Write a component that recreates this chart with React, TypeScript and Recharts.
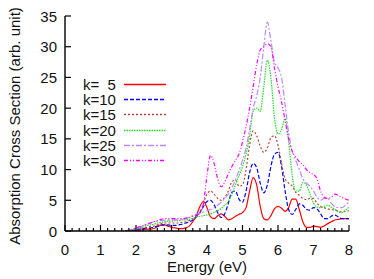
import React from "react";
import { LineChart, Line, XAxis, YAxis, Legend, Label } from "recharts";

const energies = [
  1.7, 1.8, 1.9, 2.0, 2.1, 2.2, 2.3, 2.4, 2.5, 2.6,
  2.7, 2.8, 2.9, 3.0, 3.1, 3.2, 3.3, 3.4, 3.5, 3.6,
  3.7, 3.8, 3.9, 4.0, 4.1, 4.2, 4.3, 4.4, 4.5, 4.6,
  4.7, 4.8, 4.9, 5.0, 5.1, 5.2, 5.3, 5.4, 5.5, 5.6,
  5.7, 5.8, 5.9, 6.0, 6.1, 6.2, 6.3, 6.4, 6.5, 6.6,
  6.7, 6.8, 6.9, 7.0, 7.1, 7.2, 7.3, 7.4, 7.5, 7.6,
  7.7, 7.8, 7.9, 8.0,
];

const k5 = [
  0, 0, 0, 0.05, 0.1, 0.2, 0.3, 0.3, 0.4, 0.7,
  0.95, 1.0, 0.8, 0.6, 0.5, 0.4, 0.4, 0.5, 0.8, 1.5,
  2.5, 4.0, 4.8, 3.8, 2.3, 2.0, 2.5, 2.8, 2.4, 1.8,
  2.0, 2.4, 2.7, 3.0, 3.8, 6.5, 8.7, 7.5, 4.0, 2.0,
  1.8, 2.5, 3.6, 4.0, 3.7, 3.2, 3.8, 5.2, 5.2, 3.5,
  1.5, 0.6, 0.6, 0.8, 0.7, 0.6, 0.8, 1.2, 1.5, 1.8,
  1.9, 2.0, 2.0, 2.0,
];

const k10 = [
  0, 0, 0.1, 0.2, 0.3, 0.4, 0.5, 0.5, 0.6, 0.8,
  0.95, 1.0, 1.0, 0.9, 0.9, 1.0, 1.1, 1.3, 1.5, 1.8,
  2.3, 3.0, 4.0, 4.8, 5.0, 4.3, 3.0, 2.2, 2.8, 4.5,
  6.3, 6.5, 5.2, 4.7, 6.5, 9.5, 11.0, 10.3, 7.8, 6.2,
  7.5, 10.5, 12.5, 12.8, 10.5, 6.5, 3.5, 2.7, 3.5, 4.4,
  4.2, 3.5, 3.4, 3.8, 3.6, 2.8, 2.0, 2.0, 2.4, 2.6,
  2.3, 2.0, 2.0, 2.0,
];

const k15 = [
  0, 0.05, 0.15, 0.3, 0.4, 0.5, 0.6, 0.7, 0.8, 1.0,
  1.2, 1.3, 1.3, 1.3, 1.3, 1.3, 1.4, 1.5, 1.7, 2.0,
  2.4, 3.0, 4.5, 6.0, 6.5, 6.0, 5.3, 5.0, 5.5, 6.5,
  8.0, 8.3, 7.3, 7.5, 10.0, 14.0, 16.3, 15.5, 13.8, 12.8,
  13.5, 15.2, 15.5, 14.0, 11.0, 8.5, 7.8, 7.3, 6.3, 5.8,
  5.3, 5.1, 5.3, 5.3, 4.5, 4.0, 3.8, 3.6, 3.5, 3.4,
  3.3, 3.1, 3.2, 3.3,
];

const k20 = [
  0, 0.1, 0.2, 0.35, 0.5, 0.7, 0.9, 1.0, 1.1, 1.3,
  1.4, 1.5, 1.6, 1.6, 1.7, 1.7, 1.8, 1.8, 1.9, 2.1,
  2.3, 2.4, 2.5, 2.6, 2.8, 3.0, 3.3, 3.7, 4.2, 4.8,
  6.0, 7.5, 9.0, 10.5, 12.5, 15.5, 19.5, 20.0, 19.5, 23.5,
  27.8, 25.0, 18.5, 15.8, 16.5, 18.3, 14.5, 9.0, 6.5, 6.5,
  7.9, 7.5, 6.0, 4.5, 3.9, 3.8, 4.0, 4.2, 3.9, 3.5,
  3.1, 3.0, 3.4, 3.9,
];

const k25 = [
  0, 0.1, 0.25, 0.45, 0.65, 0.85, 1.1, 1.3, 1.5, 1.6,
  1.7, 1.75, 1.8, 1.8, 1.8, 1.8, 1.9, 2.0, 2.2, 2.5,
  2.7, 2.9, 3.1, 3.3, 3.5, 3.8, 4.2, 4.7, 5.3, 6.0,
  7.0, 8.3, 9.8, 11.5, 13.5, 16.5, 20.0, 22.0, 25.0, 30.0,
  34.0, 31.0, 27.5, 26.5, 25.0, 20.5, 16.0, 13.0, 11.5, 10.0,
  8.5, 7.8, 7.3, 6.5, 5.5, 5.0, 5.3, 5.3, 4.5, 4.0,
  3.8, 3.8, 4.2, 4.7,
];

const k30 = [
  0, 0.15, 0.3, 0.5, 0.7, 0.9, 1.1, 1.3, 1.5, 1.7,
  1.9, 2.0, 2.0, 2.0, 2.0, 2.0, 2.0, 2.1, 2.2, 2.4,
  2.6, 3.0, 4.5, 9.0, 12.3, 11.0, 8.5, 7.2, 8.0, 9.3,
  10.5, 11.5, 12.5, 14.5, 17.0, 20.0, 23.5, 27.0, 29.5, 30.0,
  30.5, 30.0, 26.5, 23.5, 21.0, 18.0, 15.0, 13.0, 12.0, 11.3,
  10.8, 10.0, 9.5, 9.2, 8.5, 6.5, 5.5, 5.3, 5.5, 6.0,
  5.8, 5.5, 5.2, 5.0,
];

const xTicks = [
  0, 0.2, 0.4, 0.6, 0.8, 1, 1.2, 1.4, 1.6, 1.8, 2, 2.2, 2.4, 2.6, 2.8,
  3, 3.2, 3.4, 3.6, 3.8, 4, 4.2, 4.4, 4.6, 4.8, 5, 5.2, 5.4, 5.6, 5.8,
  6, 6.2, 6.4, 6.6, 6.8, 7, 7.2, 7.4, 7.6, 7.8, 8,
];
const yTicks = [0, 5, 10, 15, 20, 25, 30, 35];

const seriesDefs = [
  { key: "k5", label: "k=  5", color: "#ff0000", dash: undefined },
  { key: "k10", label: "k=10", color: "#0000ff", dash: "4 2" },
  { key: "k15", label: "k=15", color: "#b04a3a", dash: "2 2" },
  { key: "k20", label: "k=20", color: "#22dd22", dash: "1.5 1" },
  { key: "k25", label: "k=25", color: "#b88aff", dash: "6 2 2 2" },
  { key: "k30", label: "k=30", color: "#ff00ff", dash: "4 2 1 2 1 2" },
];

const data = energies.map((e, i) => ({
  e,
  k5: k5[i],
  k10: k10[i],
  k15: k15[i],
  k20: k20[i],
  k25: k25[i],
  k30: k30[i],
}));

const FONT = "'Liberation Sans', Arial, Helvetica, sans-serif";
const TXT = "#111";

const isMajor = (v: number) => Math.abs(v - Math.round(v)) < 1e-6;

const BottomTick = (props: any) => {
  const { x, y, payload } = props;
  const v = payload.value;
  const major = isMajor(v);
  return (
    <g>
      <line x1={x} x2={x} y1={y} y2={y - (major ? 6 : 3)} stroke="#000" strokeWidth={1.2} />
      {major && (
        <text x={x} y={y + 24} textAnchor="middle" fontFamily={FONT} fontSize={15} fill={TXT}>
          {Math.round(v)}
        </text>
      )}
    </g>
  );
};

const TopTick = (props: any) => {
  const { x, y, payload } = props;
  const major = isMajor(payload.value);
  return <line x1={x} x2={x} y1={y} y2={y + (major ? 6 : 3)} stroke="#000" strokeWidth={1.2} />;
};

const LeftTick = (props: any) => {
  const { x, y, payload } = props;
  return (
    <g>
      <line x1={x} x2={x + 6} y1={y} y2={y} stroke="#000" strokeWidth={1.2} />
      <text x={x - 8} y={y + 5.5} textAnchor="end" fontFamily={FONT} fontSize={15} fill={TXT}>
        {payload.value}
      </text>
    </g>
  );
};

const RightTick = (props: any) => {
  const { x, y } = props;
  return <line x1={x} x2={x - 6} y1={y} y2={y} stroke="#000" strokeWidth={1.2} />;
};

const LegendContent = () => (
  <div style={{ fontFamily: FONT, fontSize: 15, color: TXT }}>
    {seriesDefs.map((s) => (
      <div key={s.key} style={{ display: "flex", alignItems: "center", height: 15.2, lineHeight: "15px" }}>
        <span style={{ width: 41, whiteSpace: "pre" }}>{s.label}</span>
        <svg width={42} height={15}>
          <line x1={0} x2={42} y1={7.5} y2={7.5} stroke={s.color} strokeWidth={1.3} strokeDasharray={s.dash} />
        </svg>
      </div>
    ))}
  </div>
);

export default function App() {
  return (
    <div style={{ position: "absolute", left: 0, top: 0, width: 374, height: 279, background: "#fff" }}>
      <LineChart width={374} height={279} data={data} margin={{ top: 16, right: 25, left: 0, bottom: 0 }}>
        <XAxis
          dataKey="e"
          type="number"
          domain={[0, 8]}
          ticks={xTicks}
          interval={0}
          allowDataOverflow
          height={48}
          tickSize={0}
          tickMargin={0}
          tickLine={false}
          tick={<BottomTick />}
          axisLine={{ stroke: "#000", strokeWidth: 1.4 }}
        >
          <Label
            content={() => (
              <text x={207} y={272} textAnchor="middle" fontFamily={FONT} fontSize={15} fill={TXT}>
                Energy (eV)
              </text>
            )}
          />
        </XAxis>
        <XAxis
          xAxisId="top"
          dataKey="e"
          type="number"
          orientation="top"
          domain={[0, 8]}
          ticks={xTicks}
          interval={0}
          allowDataOverflow
          height={0}
          tickSize={0}
          tickMargin={0}
          tickLine={false}
          tick={<TopTick />}
          axisLine={{ stroke: "#000", strokeWidth: 1.4 }}
        >
          <Label
            content={() => (
              <text x={68} y={38} fontFamily={FONT} fontSize={15} fill={TXT}>
                b)
              </text>
            )}
          />
        </XAxis>
        <YAxis
          type="number"
          domain={[0, 35]}
          ticks={yTicks}
          interval={0}
          allowDataOverflow
          width={65}
          tickSize={0}
          tickMargin={0}
          tickLine={false}
          tick={<LeftTick />}
          axisLine={{ stroke: "#000", strokeWidth: 1.4 }}
        >
          <Label
            content={() => (
              <text
                x={14}
                y={126}
                transform="rotate(-90 14 126)"
                textAnchor="middle"
                dominantBaseline="central"
                fontFamily={FONT}
                fontSize={15}
                fill={TXT}
              >
                Absorption Cross Section (arb. unit)
              </text>
            )}
          />
        </YAxis>
        <YAxis
          yAxisId="right"
          orientation="right"
          type="number"
          domain={[0, 35]}
          ticks={yTicks}
          interval={0}
          width={0}
          tickSize={0}
          tickMargin={0}
          tickLine={false}
          tick={<RightTick />}
          axisLine={{ stroke: "#000", strokeWidth: 1.4 }}
        />
        <Legend
          layout="vertical"
          align="center"
          verticalAlign="middle"
          content={<LegendContent />}
          wrapperStyle={{ position: "absolute", left: 83, top: 77, width: 90, height: 92 }}
        />
        {seriesDefs.map((s) => (
          <Line
            key={s.key}
            dataKey={s.key}
            type="monotone"
            stroke={s.color}
            strokeWidth={1.2}
            strokeDasharray={s.dash}
            dot={false}
            activeDot={false}
            isAnimationActive={false}
          />
        ))}
      </LineChart>
    </div>
  );
}
